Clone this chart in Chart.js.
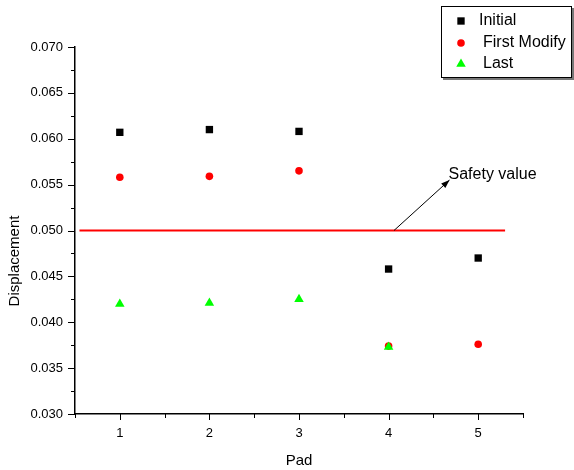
<!DOCTYPE html>
<html lang="en">
<head>
    <meta charset="UTF-8">
    <title>Displacement per Pad</title>
    <script src="https://cdn.jsdelivr.net/npm/chart.js"></script>
    <style>
        html, body { margin: 0; padding: 0; background: #fff; }
        .chart-box { position: relative; width: 574px; height: 470px; }
    </style>
</head>
<body>

<div class="chart-box">
    <canvas id="padChart"></canvas>
</div>

<script>
    // values
    const pads = [1, 2, 3, 4, 5];
    const initial = [0.0607, 0.0610, 0.0608, 0.0458, 0.0470];
    const firstModify = [0.0558, 0.0559, 0.0565, 0.0374, 0.0376];
    const last = [0.0420, 0.0421, 0.0425, 0.0373];
    const safetyValue = 0.050;
    const safetyRange = [0.55, 5.3];
    const safetyLabel = 'Safety value';
    const arrowFrom = [4.06, 0.050];
    const arrowTo = [4.68, 0.0555];
    const yTitle = 'Displacement';

    const toPoints = (vals) => vals.map((v, i) => ({ x: pads[i], y: v }));
    const font = 'Liberation Sans, Arial, sans-serif';

    // minor/major tick marks, y title, legend box and the safety arrow
    const extras = {
        id: 'extras',
        afterDraw(chart) {
            const ctx = chart.ctx;
            const xs = chart.scales.x, ys = chart.scales.y;
            const area = chart.chartArea;
            ctx.save();
            ctx.strokeStyle = '#000';
            ctx.lineWidth = 1;
            xs.ticks.forEach(t => {
                const px = Math.round(xs.getPixelForValue(t.value)) + 0.5;
                const len = Number.isInteger(t.value) ? 6 : 4;
                ctx.beginPath();
                ctx.moveTo(px, area.bottom);
                ctx.lineTo(px, area.bottom + len);
                ctx.stroke();
            });
            ys.ticks.forEach(t => {
                const py = Math.round(ys.getPixelForValue(t.value)) + 0.5;
                const major = Math.round(t.value * 10000) % 50 === 0;
                ctx.beginPath();
                ctx.moveTo(area.left, py);
                ctx.lineTo(area.left - (major ? 7 : 4), py);
                ctx.stroke();
            });

            // y axis title, a bit below the middle like the original
            ctx.save();
            ctx.translate(15, 261);
            ctx.rotate(-Math.PI / 2);
            ctx.font = '15px ' + font;
            ctx.textAlign = 'center';
            ctx.textBaseline = 'middle';
            ctx.fillStyle = '#000';
            ctx.fillText(yTitle, 0, 0);
            ctx.restore();

            // arrow to the safety line
            const x1 = xs.getPixelForValue(arrowFrom[0]), y1 = ys.getPixelForValue(arrowFrom[1]);
            const x2 = xs.getPixelForValue(arrowTo[0]), y2 = ys.getPixelForValue(arrowTo[1]);
            ctx.beginPath();
            ctx.moveTo(x1, y1);
            ctx.lineTo(x2, y2);
            ctx.stroke();
            const ang = Math.atan2(y2 - y1, x2 - x1);
            ctx.fillStyle = '#000';
            ctx.beginPath();
            ctx.moveTo(x2, y2);
            ctx.lineTo(x2 - 9 * Math.cos(ang - 0.35), y2 - 9 * Math.sin(ang - 0.35));
            ctx.lineTo(x2 - 9 * Math.cos(ang + 0.35), y2 - 9 * Math.sin(ang + 0.35));
            ctx.closePath();
            ctx.fill();
            ctx.font = '16px ' + font;
            ctx.textBaseline = 'middle';
            ctx.fillStyle = '#000';
            ctx.fillText(safetyLabel, x2 - 1, y2 - 5);

            // legend box
            ctx.fillStyle = '#fff';
            ctx.fillRect(441, 6, 131, 72);
            ctx.strokeStyle = '#777';
            ctx.lineWidth = 2;
            ctx.beginPath();
            ctx.moveTo(443, 79);
            ctx.lineTo(573, 79);
            ctx.lineTo(573, 8);
            ctx.stroke();
            ctx.strokeStyle = '#000';
            ctx.lineWidth = 1;
            ctx.strokeRect(441.5, 6.5, 130, 71);
            const rows = [[0, 479, 21], [1, 483, 43], [2, 483, 64]];
            rows.forEach(([di, tx, ty]) => {
                const ds = chart.data.datasets[di];
                ctx.fillStyle = ds.backgroundColor;
                ctx.strokeStyle = ds.backgroundColor;
                Chart.helpers.drawPoint(ctx, {
                    pointStyle: ds.pointStyle, radius: ds.pointRadius, rotation: 0, borderWidth: 0
                }, 461, ty);
                ctx.fillStyle = '#000';
                ctx.font = '16px ' + font;
                ctx.textBaseline = 'middle';
                ctx.fillText(ds.label, tx, ty);
            });
            ctx.restore();
        }
    };

    const ctx = document.getElementById('padChart').getContext('2d');
    new Chart(ctx, {
        type: 'scatter',
        data: {
            datasets: [{
                label: 'Initial',
                data: toPoints(initial),
                pointStyle: 'rect',
                pointRadius: 5.2,
                backgroundColor: '#000000',
                borderColor: '#000000',
                borderWidth: 0,
                order: 3
            }, {
                label: 'First Modify',
                data: toPoints(firstModify),
                pointStyle: 'circle',
                pointRadius: 3.8,
                backgroundColor: '#ff0000',
                borderColor: '#ff0000',
                borderWidth: 0,
                order: 2
            }, {
                label: 'Last',
                data: toPoints(last),
                pointStyle: 'triangle',
                pointRadius: 5.5,
                backgroundColor: '#00ff00',
                borderColor: '#00ff00',
                borderWidth: 0,
                order: 1
            }, {
                label: 'Safety',
                data: safetyRange.map(x => ({ x: x, y: safetyValue })),
                showLine: true,
                pointRadius: 0,
                borderColor: '#ff0000',
                borderWidth: 2,
                order: 4
            }]
        },
        options: {
            responsive: true,
            maintainAspectRatio: false,
            animation: false,
            layout: { padding: { top: 47, right: 51, left: 0, bottom: 0 } },
            plugins: {
                legend: { display: false },
                tooltip: { enabled: false }
            },
            scales: {
                x: {
                    type: 'linear',
                    min: 0.5,
                    max: 5.5,
                    afterFit: (s) => { s.height = 56; },
                    grid: { display: false },
                    border: { display: true, color: '#000', width: 1.5 },
                    ticks: {
                        stepSize: 0.5,
                        padding: 4,
                        color: '#000',
                        font: { family: font, size: 13 },
                        callback: (v) => Number.isInteger(v) ? String(v) : ''
                    },
                    title: {
                        display: true,
                        text: 'Pad',
                        color: '#000',
                        padding: 0,
                        font: { family: font, size: 15 }
                    }
                },
                y: {
                    min: 0.030,
                    max: 0.070,
                    afterFit: (s) => { s.width = 75; },
                    grid: { display: false },
                    border: { display: true, color: '#000', width: 1.5 },
                    ticks: {
                        stepSize: 0.0025,
                        padding: 4,
                        color: '#000',
                        font: { family: font, size: 13 },
                        callback: (v) => Math.round(v * 10000) % 50 === 0 ? v.toFixed(3) : ''
                    }
                }
            }
        },
        plugins: [extras]
    });
</script>

</body>
</html>
